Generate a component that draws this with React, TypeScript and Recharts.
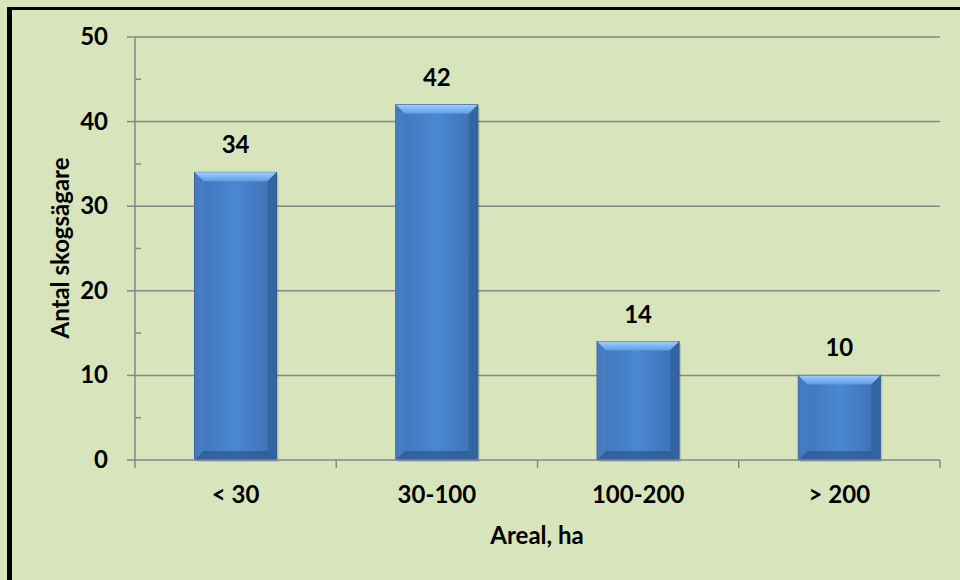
import { Bar, BarChart, CartesianGrid, LabelList, XAxis, YAxis } from "recharts";

const categories = ["< 30", "30-100", "100-200", "> 200"];
const owners = [34, 42, 14, 10];
const yTicks = [0, 5, 10, 15, 20, 25, 30, 35, 40, 45, 50];
const gridValues = [10, 20, 30, 40, 50];

const data = categories.map((name, i) => ({ name, value: owners[i] }));

const font = "Lato, 'Open Sans', sans-serif";
const axisColor = "#878787";
const fs = 24;

function YTick(props: any) {
  const { x, y, payload } = props;
  const axisX = x + 27;
  if (payload.value % 10 !== 0) {
    return <line x1={axisX} x2={axisX + 6} y1={y} y2={y} stroke={axisColor} strokeWidth={1.5} />;
  }
  return (
    <g>
      <line x1={axisX - 8} x2={axisX} y1={y} y2={y} stroke={axisColor} strokeWidth={1.5} />
      <text x={x} y={y + 8} textAnchor="end" fontFamily={font} fontWeight={700} fontSize={fs} fill="#000">
        {payload.value}
      </text>
    </g>
  );
}

function XTick(props: any) {
  const { x, y, payload, index, visibleTicksCount } = props;
  const axisY = y - 30;
  const half = payload.offset ?? 100;
  const last = index === visibleTicksCount - 1;
  return (
    <g>
      <line x1={x - half} x2={x - half} y1={axisY} y2={axisY + 8} stroke={axisColor} strokeWidth={1.5} />
      {last && <line x1={x + half} x2={x + half} y1={axisY} y2={axisY + 8} stroke={axisColor} strokeWidth={1.5} />}
      <text x={x} y={axisY + 43} textAnchor="middle" fontFamily={font} fontWeight={700} fontSize={fs} fill="#000">
        {payload.value}
      </text>
    </g>
  );
}

function BevelBar(props: any) {
  const { x, y, width, height } = props;
  if (!height || height <= 0) return null;
  const b = Math.min(9, height / 2);
  return (
    <g>
      <rect x={x + 2} y={y + 2} width={width} height={height} fill="#000" opacity={0.12} />
      <rect x={x} y={y} width={width} height={height} fill="url(#barFace)" stroke="#2f5a92" strokeWidth={1} />
      <polygon points={`${x},${y} ${x + width},${y} ${x + width - b},${y + b} ${x + b},${y + b}`} fill="url(#barTop)" />
      <polygon points={`${x},${y} ${x + b},${y + b} ${x + b},${y + height - b} ${x},${y + height}`} fill="#4a80c6" opacity={0.6} />
      <polygon points={`${x + width},${y} ${x + width - b},${y + b} ${x + width - b},${y + height - b} ${x + width},${y + height}`} fill="#2e5d9a" opacity={0.65} />
      <polygon points={`${x},${y + height} ${x + b},${y + height - b} ${x + width - b},${y + height - b} ${x + width},${y + height}`} fill="#2d5a93" opacity={0.75} />
    </g>
  );
}

export default function App() {
  return (
    <div style={{ position: "relative", width: 960, height: 580, overflow: "hidden", background: "#d8e4bc" }}>
      <style>{"body{margin:0}"}</style>
      <div
        style={{
          position: "absolute",
          left: 7,
          top: 7,
          width: 1000,
          height: 620,
          borderLeft: "5px solid #000",
          borderTop: "3px solid #000",
          boxSizing: "border-box"
        }}
      />
      <BarChart
        width={960}
        height={580}
        data={data}
        margin={{ top: 37, right: 20, bottom: 60, left: 75 }}
        barCategoryGap="29.6%"
        style={{ position: "absolute", left: 0, top: 0 }}
      >
        <defs>
          <linearGradient id="barFace" x1="0" y1="0" x2="1" y2="0">
            <stop offset="0" stopColor="#3f74b8" />
            <stop offset="0.5" stopColor="#4b87d2" />
            <stop offset="1" stopColor="#3c6fb2" />
          </linearGradient>
          <linearGradient id="barTop" x1="0" y1="0" x2="0" y2="1">
            <stop offset="0" stopColor="#9fd0ff" />
            <stop offset="1" stopColor="#5d9be3" />
          </linearGradient>
        </defs>
        <CartesianGrid horizontal vertical={false} horizontalValues={gridValues} stroke={axisColor} strokeWidth={1.5} />
        <XAxis
          dataKey="name"
          height={60}
          axisLine={{ stroke: axisColor, strokeWidth: 1.5 }}
          tickLine={false}
          tickSize={8}
          tickMargin={22}
          tick={<XTick />}
          interval={0}
          label={{
            content: () => (
              <text x={537} y={544} textAnchor="middle" fontFamily={font} fontWeight={700} fontSize={fs} fill="#000">
                Areal, ha
              </text>
            )
          }}
        />
        <YAxis
          width={60}
          domain={[0, 50]}
          ticks={yTicks}
          interval={0}
          axisLine={{ stroke: axisColor, strokeWidth: 1.5 }}
          tickLine={false}
          tickSize={8}
          tickMargin={19}
          tick={<YTick />}
          label={{
            content: () => (
              <text
                x={0}
                y={0}
                transform="translate(69 248) rotate(-90)"
                textAnchor="middle"
                fontFamily={font}
                fontWeight={700}
                fontSize={fs}
                fill="#000"
              >
                Antal skogsägare
              </text>
            )
          }}
        />
        <Bar dataKey="value" shape={<BevelBar />} isAnimationActive={false}>
          <LabelList dataKey="value" position="top" offset={19} fontFamily={font} fontWeight={700} fontSize={fs} fill="#000" />
        </Bar>
      </BarChart>
    </div>
  );
}
